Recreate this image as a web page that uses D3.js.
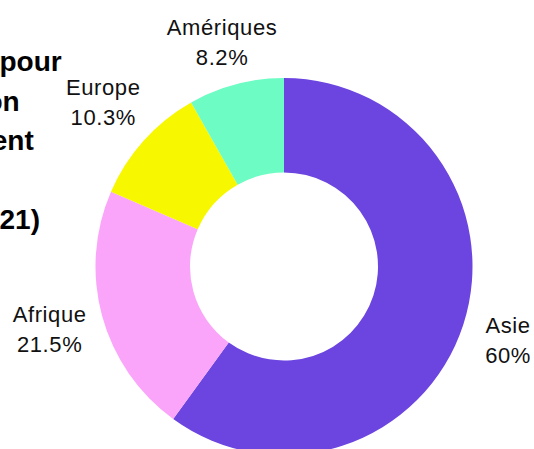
<!DOCTYPE html>
<html>
<head>
<meta charset="utf-8">
<script src="https://cdn.jsdelivr.net/npm/d3@7"></script>
<style>
  html, body { margin: 0; padding: 0; background: #fff; overflow: hidden; }
  svg { display: block; font-family: "Liberation Sans", Arial, sans-serif; }
</style>
</head>
<body>
<div id="chart"></div>
<script>
// Data
const regions = ["Asie", "Afrique", "Europe", "Amériques"];
const shares = [60, 21.5, 10.3, 8.2];
const shareLabels = ["60%", "21.5%", "10.3%", "8.2%"];
const colors = ["#6c44e0", "#faa5fa", "#f7f700", "#6cfcc4"];
const titleLines = ["Part du total pour", "chaque région", "de ce continent", "à l'échelle", "mondiale (2021)"];

const width = 534, height = 449;
const cx = 284, cy = 266.5;
const outerR = 188.5, innerR = 94, labelR = 243;

const svg = d3.select("#chart").append("svg")
    .attr("width", width)
    .attr("height", height);

// Title, left aligned and running off the left edge
const title = svg.append("text")
    .attr("font-weight", "bold")
    .attr("font-size", 28)
    .attr("fill", "#000");
title.selectAll("tspan")
    .data(titleLines)
    .join("tspan")
    .attr("x", 0)
    .attr("y", (d, i) => 71 + i * 39.5)
    .text(d => d);
// shift so the last line ends where the reference shows it
const lastW = title.selectAll("tspan").nodes()[titleLines.length - 1].getComputedTextLength();
title.attr("transform", `translate(${40 - lastW},0)`);

const data = regions.map((r, i) => ({ region: r, value: shares[i], label: shareLabels[i], color: colors[i] }));

const pie = d3.pie().sort(null).value(d => d.value);
const arc = d3.arc().innerRadius(innerR).outerRadius(outerR);
const labelArc = d3.arc().innerRadius(labelR).outerRadius(labelR);

const g = svg.append("g").attr("transform", `translate(${cx},${cy})`);

const arcs = pie(data);

g.selectAll("path")
    .data(arcs)
    .join("path")
    .attr("fill", d => d.data.color)
    .attr("d", arc);

// Labels, kept inside the page
const labels = svg.append("g")
    .attr("font-size", 22)
    .attr("fill", "#111")
    .attr("letter-spacing", 0.6)
    .attr("text-anchor", "middle");

arcs.forEach(d => {
    let [x, y] = labelArc.centroid(d);
    x += cx; y += cy;
    const t = labels.append("text");
    t.append("tspan").attr("x", 0).attr("dy", 0).text(d.data.region);
    t.append("tspan").attr("x", 0).attr("dy", 30).text(d.data.label);
    const w = Math.max(...t.selectAll("tspan").nodes().map(n => n.getComputedTextLength()));
    x = Math.min(Math.max(x, w / 2 + 3), width - w / 2 - 3);
    let y1 = Math.max(y - 9, 35);
    t.attr("transform", `translate(${x},${y1})`);
});
</script>
</body>
</html>
